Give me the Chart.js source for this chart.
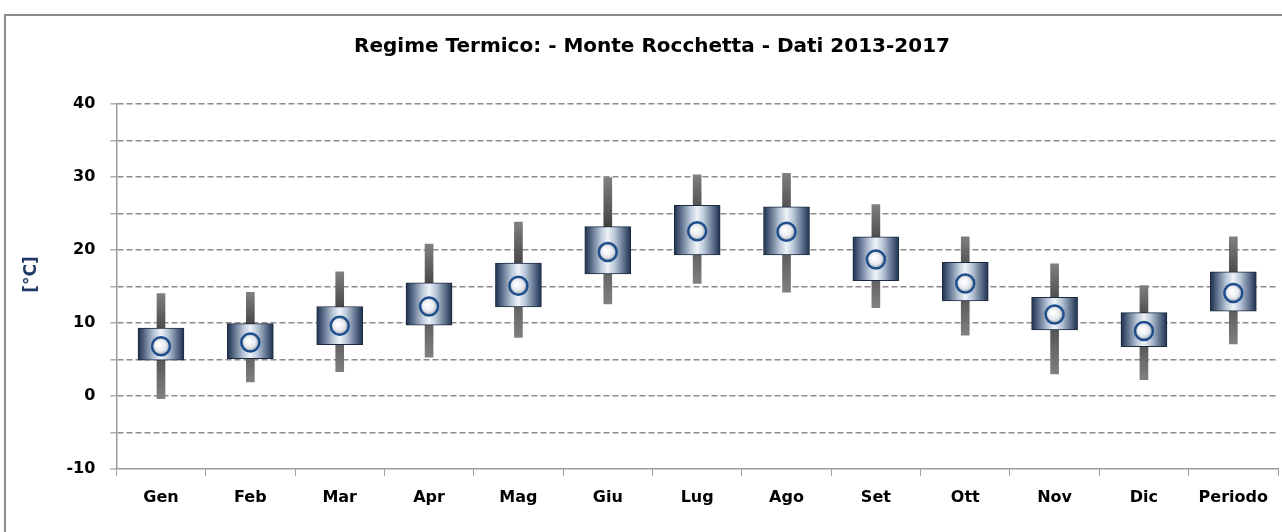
<!DOCTYPE html>
<html>
<head>
<meta charset="utf-8">
<script src="https://cdn.jsdelivr.net/npm/chart.js@4/dist/chart.umd.min.js"></script>
<style>
  html, body { margin: 0; padding: 0; background: #fff; overflow: hidden; }
  .frame { position: absolute; left: 4px; top: 14px; width: 1300px; height: 540px; border: 2px solid #8c8c8c; }
  .wrap { position: absolute; left: 0; top: 0; width: 1304px; height: 532px; }
</style>
</head>
<body>
<div class="frame"></div>
<div class="wrap"><canvas id="chart"></canvas></div>
<script>
  // Regime termico mensile - Monte Rocchetta 2013-2017
  const categories = ['Gen', 'Feb', 'Mar', 'Apr', 'Mag', 'Giu', 'Lug', 'Ago', 'Set', 'Ott', 'Nov', 'Dic', 'Periodo'];
  const tMin = [-0.4, 1.9, 3.3, 5.3, 8.0, 12.6, 15.4, 14.2, 12.1, 8.3, 3.0, 2.2, 7.1];
  const tMax = [14.0, 14.2, 17.0, 20.8, 23.8, 29.9, 30.3, 30.5, 26.2, 21.8, 18.1, 15.1, 21.8];
  const boxLow = [4.9, 5.1, 7.0, 9.7, 12.2, 16.7, 19.3, 19.3, 15.8, 13.0, 9.05, 6.75, 11.6];
  const boxHigh = [9.3, 9.9, 12.25, 15.5, 18.2, 23.2, 26.1, 25.9, 21.8, 18.3, 13.5, 11.4, 17.0];
  const tMean = [6.8, 7.3, 9.6, 12.25, 15.1, 19.7, 22.55, 22.5, 18.7, 15.4, 11.15, 8.9, 14.1];

  const FONT = "'DejaVu Sans', sans-serif";
  const BOX_W = 46;
  const WHISKER_W = 8;

  // horizontal metal gradient for each box
  function boxFill(c) {
    const chart = c.chart;
    if (!chart.chartArea || c.dataIndex === undefined) return '#5b6d88';
    const x = chart.scales.x.getPixelForValue(c.dataIndex);
    const g = chart.ctx.createLinearGradient(x - BOX_W / 2, 0, x + BOX_W / 2, 0);
    g.addColorStop(0, '#1e2f4a');
    g.addColorStop(0.12, '#4f627f');
    g.addColorStop(0.35, '#b9c7d8');
    g.addColorStop(0.5, '#eef3f8');
    g.addColorStop(0.65, '#b9c7d8');
    g.addColorStop(0.88, '#4f627f');
    g.addColorStop(1, '#1e2f4a');
    return g;
  }

  // vertical grey gradient for whiskers, darker near the box
  function whiskerFill(c) {
    const chart = c.chart;
    if (!chart.chartArea || c.dataIndex === undefined) return '#6e6e6e';
    const y = chart.scales.y;
    const top = y.getPixelForValue(tMax[c.dataIndex]);
    const bot = y.getPixelForValue(tMin[c.dataIndex]);
    const g = chart.ctx.createLinearGradient(0, top, 0, bot);
    g.addColorStop(0, '#808080');
    g.addColorStop(0.45, '#383838');
    g.addColorStop(0.6, '#555555');
    g.addColorStop(1, '#808080');
    return g;
  }

  function meanFill(c) {
    const chart = c.chart;
    if (!chart.chartArea || c.dataIndex === undefined) return '#ffffff';
    const x = chart.scales.x.getPixelForValue(c.dataIndex);
    const y = chart.scales.y.getPixelForValue(tMean[c.dataIndex]);
    const g = chart.ctx.createRadialGradient(x - 2, y - 2, 1, x, y, 9);
    g.addColorStop(0, '#ffffff');
    g.addColorStop(0.6, '#e6e9ee');
    g.addColorStop(1, '#9aa3ae');
    return g;
  }

  new Chart(document.getElementById('chart'), {
    type: 'bar',
    data: {
      labels: categories,
      datasets: [
        {
          type: 'line',
          label: 'Media',
          data: tMean,
          showLine: false,
          pointRadius: 9,
          pointBorderWidth: 2.5,
          pointBorderColor: '#1f4e8c',
          pointBackgroundColor: meanFill,
          order: 0
        },
        {
          label: 'Box',
          data: boxLow.map((v, i) => [v, boxHigh[i]]),
          backgroundColor: boxFill,
          borderColor: '#1b2a40',
          borderWidth: 1,
          borderSkipped: false,
          barThickness: BOX_W,
          grouped: false,
          order: 1
        },
        {
          label: 'Min-Max',
          data: tMin.map((v, i) => [v, tMax[i]]),
          backgroundColor: whiskerFill,
          borderWidth: 0,
          barThickness: WHISKER_W,
          grouped: false,
          order: 2
        }
      ]
    },
    options: {
      responsive: true,
      maintainAspectRatio: false,
      animation: false,
      layout: { padding: { left: 26, right: 26, top: 0, bottom: 13 } },
      plugins: {
        legend: { display: false },
        tooltip: { enabled: false },
        title: {
          display: true,
          text: 'Regime Termico: - Monte Rocchetta - Dati 2013-2017',
          color: '#000',
          font: { family: FONT, size: 20, weight: 'bold', lineHeight: 1.2 },
          padding: { top: 35, bottom: 45 }
        }
      },
      scales: {
        x: {
          offset: true,
          grid: { display: true, drawOnChartArea: false, drawTicks: true, tickLength: 7, color: '#9a9a9a', offset: true },
          border: { color: '#9a9a9a', width: 1.5 },
          ticks: { color: '#000', padding: 12, font: { family: FONT, size: 16, weight: 'bold' } }
        },
        y: {
          min: -10,
          max: 40,
          ticks: {
            stepSize: 5,
            color: '#000',
            padding: 15,
            font: { family: FONT, size: 16, weight: 'bold' },
            callback: v => (v % 10 === 0 ? v : '')
          },
          grid: {
            color: '#8c8c8c',
            lineWidth: c => (c.tick && c.tick.value === -10 ? 0 : 1.6),
            tickColor: '#9a9a9a',
            tickLength: 6,
            tickWidth: 1.2,
            tickBorderDash: []
          },
          border: { color: '#9a9a9a', width: 1.5, dash: [6, 3] },
          title: {
            display: true,
            text: '    [°C]',
            color: '#1f3a64',
            font: { family: FONT, size: 17, weight: 'bold', lineHeight: 1.2 },
            padding: { top: -5, bottom: 10 }
          }
        }
      }
    }
  });
</script>
</body>
</html>
